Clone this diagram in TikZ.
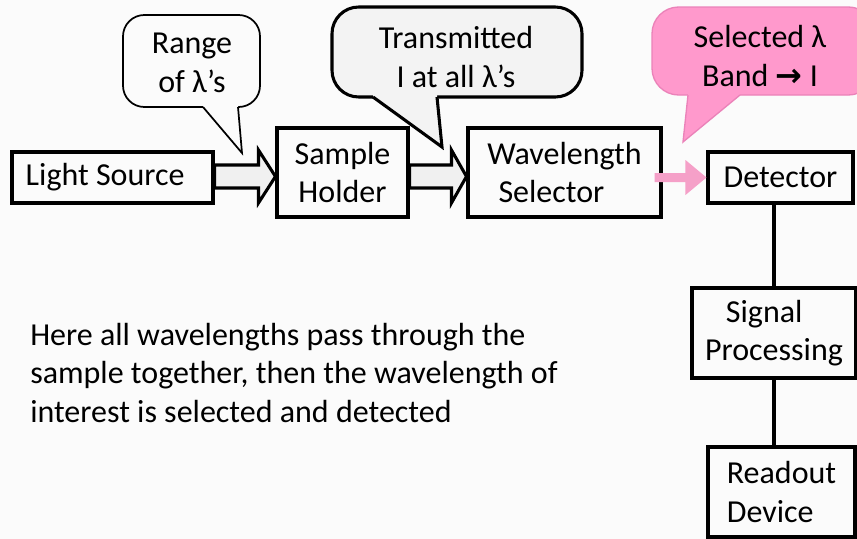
\documentclass[tikz,border=0pt]{standalone}
\usepackage{fontspec}
\setmainfont{Carlito}
\newfontfamily\symfont{DejaVu Sans}
\usetikzlibrary{calc}
\definecolor{pinkfill}{RGB}{255,153,204}
\definecolor{pinkedge}{RGB}{235,130,185}
\definecolor{pinkarrow}{RGB}{245,160,200}
\definecolor{bg}{RGB}{251,251,251}
\definecolor{grayfill}{RGB}{243,243,243}
\definecolor{arrowfill}{RGB}{240,240,240}
\begin{document}
\begin{tikzpicture}[x=0.75pt,y=-0.75pt,
  box/.style={draw=black, line width=2.3pt, fill=bg, inner sep=0pt},
  lbl/.style={font=\fontsize{24}{29}\selectfont, align=center},
  barrow/.style={draw=black, line width=2.3pt, fill=arrowfill, line join=miter},
  pinkarr/.style={fill=pinkarrow, draw=none}
]
\useasboundingbox (0,0) rectangle (857,539);
\clip (0,0) rectangle (857,539);
\fill[bg] (0,0) rectangle (857,539);

% callout 1: Range of lambdas
\draw[line width=1.3pt, fill=bg, rounded corners=16] (123,15) rectangle (260,107);
\fill[bg] (203,104) -- (203,107) -- (242,153) -- (238,107) -- (238,104) -- cycle;
\draw[line width=1.3pt, line join=miter] (203,107) -- (242,153) -- (238,107);
\node[lbl] (c1) at (192,63) {Range\\of λ’s};

% callout 2: Transmitted
\draw[line width=2.3pt, fill=grayfill, rounded corners=20] (332,7) rectangle (582,97);
\fill[grayfill] (373,93) -- (373,97) -- (442,147) -- (437,97) -- (437,93) -- cycle;
\draw[line width=2.3pt, line join=miter] (373,97) -- (442,147) -- (437,97);
\node[lbl] (c2) at (456,57) {Transmitted\\I at all λ’s};

% callout 3: Selected lambda band
\draw[line width=1pt, draw=pinkedge, fill=pinkfill, rounded corners=20] (652,7) rectangle (875,95);
\fill[pinkfill] (688,92) -- (688,95) -- (683,142) -- (740,95) -- (740,92) -- cycle;
\draw[line width=1pt, draw=pinkedge, line join=miter] (688,95) -- (683,142) -- (740,95);
\node[lbl] (c3) at (760,56) {Selected λ\\Band {\symfont\bfseries\fontsize{24}{29}\selectfont →} I};

% boxes
\node[box, lbl, minimum width=150.75pt, minimum height=38.25pt] (ls) at (112.5,177.5) {Light Source\hspace{11pt}};
\node[box, lbl, minimum width=98.25pt, minimum height=66.75pt] (sh) at (342.5,172.5) {Sample\\Holder};
\node[box, lbl, align=left, minimum width=144.75pt, minimum height=66.75pt] (ws) at (564.5,172.5) {Wavelength\\\hspace{0.35em}Selector};
\node[box, lbl, minimum width=108.75pt, minimum height=38.25pt] (det) at (780.5,177.5) {Detector};
\node[box, lbl, align=left, minimum width=123pt, minimum height=67.5pt] (sp) at (774,333) {\hspace{0.65em}Signal\\Processing};
\node[box, lbl, align=left, minimum width=110.25pt, minimum height=67.5pt] (rd) at (781.5,492) {Readout\\Device};

% connectors
\draw[line width=2.3pt] (sp.north) -- (sp.north |- det.south);
\draw[line width=2.3pt] (sp.south) -- (sp.south |- rd.north);

% block arrows
\coordinate (ay) at (0,176.5);
\coordinate (a1s) at (ls.east |- ay);
\coordinate (a1e) at (sh.west |- ay);
\draw[barrow] ($(a1s)+(0,-11.5)$) -- ($(a1e)+(-17,-11.5)$) -- ($(a1e)+(-17,-26.5)$) -- (a1e)
  -- ($(a1e)+(-17,26.5)$) -- ($(a1e)+(-17,11.5)$) -- ($(a1s)+(0,11.5)$) -- cycle;
\coordinate (a2s) at (sh.east |- ay);
\coordinate (a2e) at (ws.west |- ay);
\draw[barrow] ($(a2s)+(0,-11.5)$) -- ($(a2e)+(-15,-11.5)$) -- ($(a2e)+(-15,-26.5)$) -- (a2e)
  -- ($(a2e)+(-15,26.5)$) -- ($(a2e)+(-15,11.5)$) -- ($(a2s)+(0,11.5)$) -- cycle;
\coordinate (a3s) at (ws.east |- det.west);
\coordinate (a3e) at (det.west);
\fill[pinkarr] ($(a3s)+(-8,-4.5)$) -- ($(a3e)+(-21,-4.5)$) -- ($(a3e)+(-21,-17.5)$) -- (a3e)
  -- ($(a3e)+(-21,17.5)$) -- ($(a3e)+(-21,4.5)$) -- ($(a3s)+(-8,4.5)$) -- cycle;

% body text
\node[lbl, align=left, anchor=west, inner sep=0pt] (body) at (30,373) {Here all wavelengths pass through the\\sample together, then the wavelength of\\interest is selected and detected};
\end{tikzpicture}
\end{document}
